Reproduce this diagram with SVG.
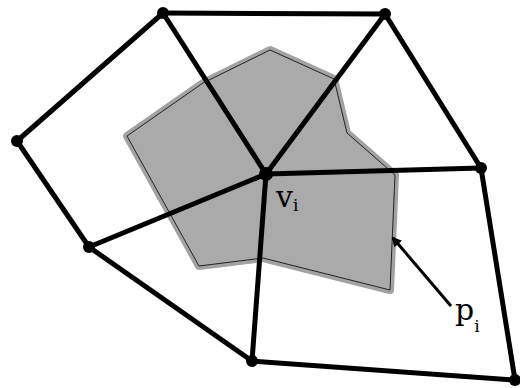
<svg xmlns="http://www.w3.org/2000/svg" width="520" height="388" viewBox="0 0 520 388">
<defs>
<style>
.e{stroke:#000;stroke-width:5;stroke-linecap:round;fill:none}
.n{fill:#000}
.lbl{font-family:"DejaVu Serif","Liberation Serif",serif;fill:#000}
</style>
<marker id="ah" markerWidth="10" markerHeight="10" refX="8" refY="5" orient="auto" markerUnits="userSpaceOnUse" viewBox="0 0 10 10">
<path d="M0,0 L10,5 L0,10 z" fill="#000"/>
</marker>
</defs>
<rect width="520" height="388" fill="#fff"/>
<g id="cell">
<polygon points="127,136 203,83 270,50 334,79 347,133 395,175 390,290 263,258 199,266" fill="#aaa" stroke="#a2a2a2" stroke-width="8" stroke-linejoin="round"/>
<polygon points="127,136 203,83 270,50 334,79 347,133 395,175 390,290 263,258 199,266" fill="#aaa" stroke="#222" stroke-width="1"/>
</g>
<g id="connectors">
<line class="e" x1="163" y1="13" x2="385" y2="14"/>
<line class="e" x1="163" y1="13" x2="17" y2="141"/>
<line class="e" x1="163" y1="13" x2="266" y2="174"/>
<line class="e" x1="385" y1="14" x2="266" y2="174"/>
<line class="e" x1="385" y1="14" x2="481" y2="168"/>
<line class="e" x1="17" y1="141" x2="89" y2="247"/>
<line class="e" x1="89" y1="247" x2="266" y2="174"/>
<line class="e" x1="89" y1="247" x2="252" y2="361"/>
<line class="e" x1="266" y1="174" x2="481" y2="168"/>
<line class="e" x1="266" y1="174" x2="252" y2="361"/>
<line class="e" x1="481" y1="168" x2="515" y2="380"/>
<line class="e" x1="252" y1="361" x2="515" y2="380"/>
<line x1="451" y1="306" x2="393" y2="238" stroke="#000" stroke-width="3" marker-end="url(#ah)"/>
</g>
<g id="nA"><circle class="n" cx="163" cy="13" r="6"/></g>
<g id="nB"><circle class="n" cx="385" cy="14" r="6"/></g>
<g id="nC"><circle class="n" cx="17" cy="141" r="6"/></g>
<g id="nV"><circle class="n" cx="266" cy="174" r="7"/></g>
<g id="nD"><circle class="n" cx="481" cy="168" r="6"/></g>
<g id="nE"><circle class="n" cx="89" cy="247" r="6"/></g>
<g id="nF"><circle class="n" cx="252" cy="361" r="6"/></g>
<g id="nG"><circle class="n" cx="515" cy="380" r="6"/></g>
<g id="labels">
<text class="lbl" x="276" y="207" font-size="30">v<tspan font-size="17" dy="4">i</tspan></text>
<text class="lbl" x="455" y="320" font-size="30">p<tspan font-size="17" dy="12">i</tspan></text>
</g>
</svg>
